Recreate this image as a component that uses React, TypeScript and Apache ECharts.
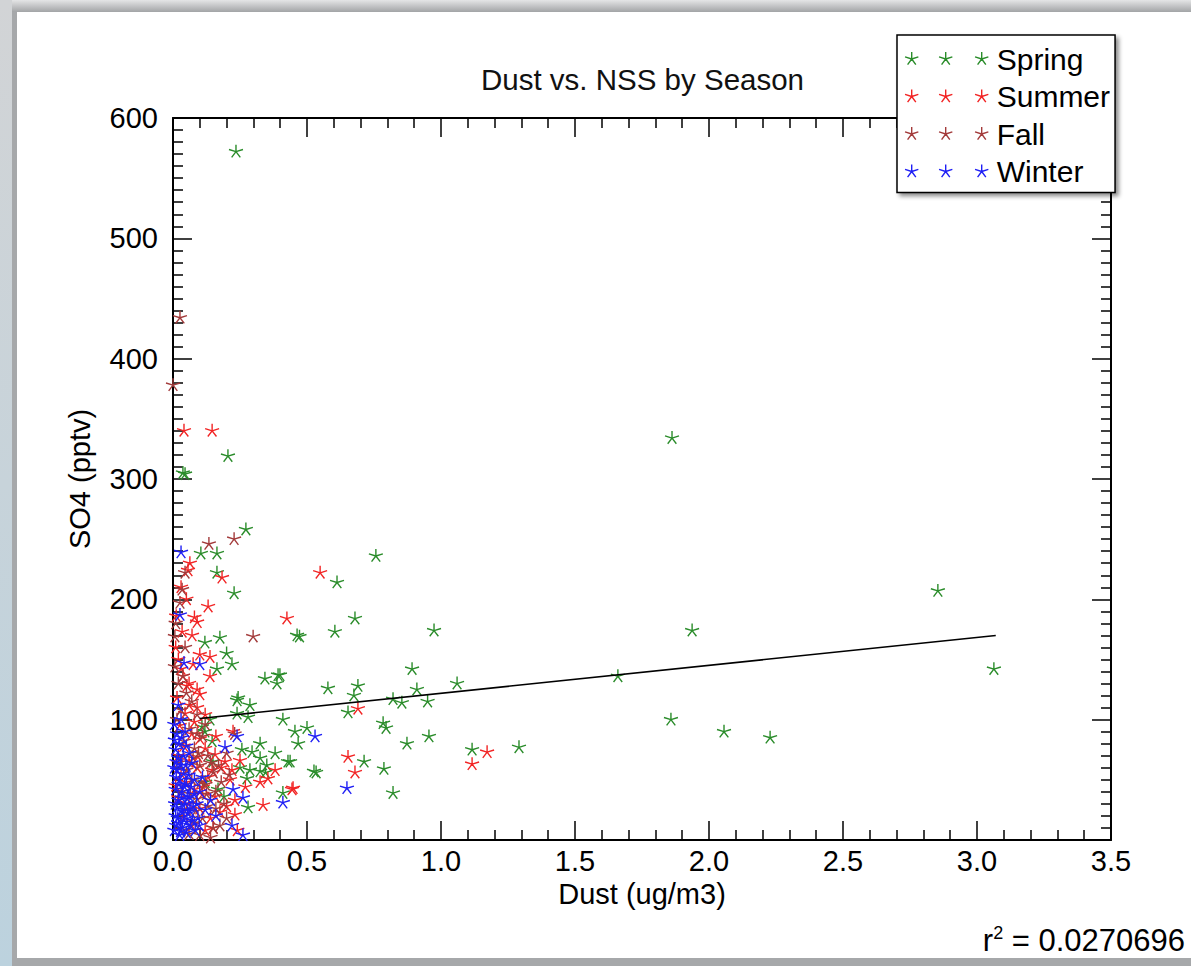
import React, { useEffect, useRef } from "react";
import * as echarts from "echarts";

// ---- data (Dust ug/m3, SO4 pptv) ----
const seasons = ["Spring", "Summer", "Fall", "Winter"];
const seasonColors = ["#2a8c2a", "#f22424", "#a33b3b", "#1f1ff5"];

const spring: number[][] = [
  [0.235, 572], [1.862, 334], [2.854, 207], [3.063, 142], [1.937, 174], [1.66, 136], [1.858, 100], [2.056, 90], [2.228, 85],
  [0.757, 236], [0.612, 214], [0.679, 184], [0.463, 170], [0.472, 169], [0.604, 173], [0.974, 174], [0.399, 137], [0.892, 142],
  [0.578, 126], [0.69, 128], [0.675, 120], [0.821, 117], [0.854, 114], [0.91, 125], [0.95, 115], [1.06, 130], [0.653, 106],
  [0.41, 100], [0.784, 97], [0.795, 93], [0.455, 90], [0.5, 93], [0.467, 80], [0.873, 80], [0.955, 86], [1.116, 75], [1.291, 77],
  [0.437, 65], [0.713, 65], [0.526, 57], [0.534, 56], [0.787, 59], [0.821, 39], [0.41, 39],
  [0.272, 258], [0.104, 238], [0.164, 238], [0.164, 222], [0.228, 205], [0.119, 164], [0.175, 168], [0.2, 155], [0.22, 146],
  [0.164, 142], [0.343, 134], [0.392, 137], [0.388, 130], [0.243, 118],
  [0.239, 116], [0.287, 112], [0.239, 105], [0.28, 102], [0.138, 100], [0.119, 90], [0.146, 82], [0.257, 75], [0.295, 73],
  [0.325, 80], [0.381, 72], [0.429, 65], [0.325, 68], [0.35, 62], [0.25, 60], [0.287, 58], [0.276, 51], [0.325, 57], [0.345, 56],
  [0.28, 27], [0.168, 42], [0.149, 65], [0.037, 305], [0.045, 304], [0.205, 319], [0.108, 94], [0.12, 48], [0.19, 36],
];

const summer: number[][] = [
  [0.041, 340], [0.146, 340], [0.063, 230], [0.056, 224], [0.183, 218], [0.131, 194], [0.09, 181], [0.034, 173], [0.071, 170],
  [0.549, 222], [0.425, 184], [0.1, 154], [0.138, 152], [0.138, 136], [0.037, 136], [0.052, 128], [0.09, 125], [0.1, 121],
  [0.69, 109], [0.653, 69], [0.679, 56], [0.444, 42], [1.172, 73], [1.116, 63],
  [0.224, 90], [0.157, 71], [0.194, 65], [0.22, 58], [0.213, 50], [0.325, 48], [0.354, 51], [0.381, 58], [0.448, 43],
  [0.336, 29], [0.231, 33], [0.231, 21], [0.175, 23], [0.157, 36], [0.112, 44], [0.146, 58], [0.093, 69],
  [0.01, 160], [0.02, 150], [0.03, 142], [0.015, 118], [0.06, 112], [0.045, 105], [0.08, 98], [0.025, 95], [0.07, 88],
  [0.1, 84], [0.04, 78], [0.12, 76], [0.02, 70], [0.06, 66], [0.09, 60], [0.03, 55], [0.13, 52], [0.05, 48], [0.08, 42],
  [0.11, 38], [0.02, 35], [0.06, 30], [0.1, 26], [0.14, 18], [0.04, 20], [0.07, 12], [0.12, 8], [0.01, 45], [0.05, 200],
  [0.03, 210], [0.08, 185], [0.012, 186], [0.075, 146],
  [0.16, 86], [0.18, 60], [0.25, 66], [0.27, 44], [0.2, 28], [0.15, 10], [0.24, 8], [0.09, 110], [0.12, 104], [0.06, 130],
];

const fall: number[][] = [
  [0.026, 434], [0.0, 378], [0.134, 246], [0.228, 250], [0.045, 222], [0.034, 208], [0.026, 197], [0.299, 169], [0.007, 169],
  [0.045, 160], [0.037, 136], [0.007, 144], [0.23, 88],
  [0.01, 180], [0.02, 130], [0.05, 122], [0.07, 115], [0.03, 108], [0.09, 104], [0.015, 100], [0.06, 92], [0.11, 86],
  [0.04, 82], [0.08, 76], [0.13, 70], [0.02, 64], [0.1, 62], [0.15, 56], [0.05, 58], [0.12, 46], [0.07, 50], [0.03, 40],
  [0.16, 40], [0.09, 34], [0.13, 28], [0.05, 25], [0.11, 18], [0.08, 14], [0.15, 10], [0.03, 8], [0.1, 4], [0.19, 30],
  [0.17, 62], [0.21, 54], [0.06, 5],
  [0.14, 64], [0.18, 48], [0.16, 26], [0.2, 18], [0.12, 96], [0.09, 88], [0.075, 68], [0.105, 48], [0.125, 38], [0.085, 24],
  [0.175, 12], [0.14, 2], [0.065, 38], [0.095, 72], [0.2, 72],
];

const winter: number[][] = [
  [0.03, 239], [0.026, 187], [0.041, 147], [0.1, 146], [0.239, 86], [0.194, 77], [0.224, 42], [0.261, 35], [0.22, 12],
  [0.261, 4], [0.41, 31], [0.53, 86], [0.649, 43], [0.007, 83], [0.02, 112], [0.093, 18],
  [0.01, 75], [0.02, 68], [0.03, 62], [0.015, 58], [0.04, 55], [0.025, 50], [0.05, 46], [0.01, 42], [0.035, 40], [0.06, 36],
  [0.02, 33], [0.045, 30], [0.015, 27], [0.03, 24], [0.055, 22], [0.01, 20], [0.04, 17], [0.02, 14], [0.065, 12], [0.035, 10],
  [0.005, 8], [0.05, 6], [0.025, 4], [0.075, 28], [0.08, 50], [0.06, 72], [0.045, 90], [0.03, 100], [0.1, 40], [0.12, 25],
  [0.015, 88], [0.07, 64],
  [0.005, 60], [0.012, 52], [0.022, 46], [0.032, 35], [0.042, 25], [0.052, 15], [0.008, 30], [0.018, 18], [0.028, 7],
  [0.038, 70], [0.048, 62], [0.058, 54], [0.068, 44], [0.078, 38], [0.088, 30], [0.013, 65], [0.023, 80], [0.033, 85],
  [0.043, 44], [0.053, 34], [0.063, 24], [0.073, 16], [0.083, 8], [0.098, 12], [0.11, 52], [0.14, 33], [0.16, 20],
  [0.012, 12], [0.005, 96], [0.05, 78],
];

const fitLine: number[][] = [[0.1, 101], [3.07, 170]];
const rSquared = "0.0270696";

const xTicks = { min: 0, max: 3.5, interval: 0.5 };
const yTicks = { min: 0, max: 600, interval: 100 };

const FONT = "'Liberation Sans', Arial, Helvetica, sans-serif";

const STAR =
  "path://M10 10L10 0M10 10L19.51 6.91M10 10L15.88 18.09M10 10L4.12 18.09M10 10L0.49 6.91M10 20L10 20";
const STAR3 =
  "path://M7 7L7 0M7 7L13.66 4.84M7 7L11.11 12.66M7 7L2.89 12.66M7 7L0.34 4.84" +
  "M41 7L41 0M41 7L47.66 4.84M41 7L45.11 12.66M41 7L36.89 12.66M41 7L34.34 4.84" +
  "M77 7L77 0M77 7L83.66 4.84M77 7L81.11 12.66M77 7L72.89 12.66M77 7L70.34 4.84" +
  "M0 14L0 14M84 14L84 14";

export default function App() {
  const ref = useRef<HTMLDivElement>(null);

  useEffect(() => {
    if (!ref.current) return;
    const chart = echarts.init(ref.current, null, { renderer: "svg" });
    const seriesData = [spring, summer, fall, winter];

    const axisCommon = {
      type: "value" as const,
      axisLine: { show: true, onZero: false, lineStyle: { color: "#000", width: 2 } },
      axisTick: { show: true, inside: true, length: 19, lineStyle: { color: "#000", width: 1.5 } },
      minorTick: { show: true, length: 10, lineStyle: { color: "#000", width: 1.5 } },
      splitLine: { show: false },
      minorSplitLine: { show: false },
    };

    chart.setOption({
      animation: false,
      backgroundColor: "transparent",
      textStyle: { fontFamily: FONT, color: "#000" },
      title: {
        text: "Dust vs. NSS by Season",
        left: 481,
        top: 64,
        padding: 0,
        textStyle: { fontFamily: FONT, fontSize: 29.5, fontWeight: "normal", color: "#111" },
      },
      grid: { left: 173, right: 80, top: 118, bottom: 126, containLabel: false, outerBoundsMode: "none" },
      legend: {
        orient: "vertical",
        left: 897,
        top: 35,
        padding: [9, 5, 6, 7],
        itemGap: 7.5,
        itemWidth: 84,
        itemHeight: 14,
        selectedMode: false,
        backgroundColor: "#fff",
        borderColor: "#000",
        borderWidth: 1.5,
        borderRadius: 0,
        shadowColor: "rgba(0,0,0,0.45)",
        shadowBlur: 4,
        shadowOffsetX: 3,
        shadowOffsetY: 3,
        itemStyle: { borderWidth: 1.4 },
        textStyle: { fontFamily: FONT, fontSize: 30, color: "#000", padding: [0, 0, 0, 3] },
        data: seasons.map((s) => ({ name: s, icon: STAR3 })),
      },
      xAxis: [
        {
          ...axisCommon,
          position: "bottom",
          min: xTicks.min,
          max: xTicks.max,
          interval: xTicks.interval,
          minorTick: { ...axisCommon.minorTick, splitNumber: 5 },
          axisLabel: {
            show: true,
            margin: 6,
            fontSize: 29,
            color: "#000",
            fontFamily: FONT,
            formatter: (v: number) => v.toFixed(1),
          },
          name: "Dust (ug/m3)",
          nameLocation: "middle",
          nameGap: 34,
          nameTextStyle: { fontSize: 29, color: "#000", fontFamily: FONT },
        },
        {
          ...axisCommon,
          position: "top",
          min: xTicks.min,
          max: xTicks.max,
          interval: xTicks.interval,
          minorTick: { ...axisCommon.minorTick, splitNumber: 5 },
          axisLabel: { show: false },
        },
      ],
      yAxis: [
        {
          ...axisCommon,
          position: "left",
          min: yTicks.min,
          max: yTicks.max,
          interval: yTicks.interval,
          minorTick: { ...axisCommon.minorTick, splitNumber: 10 },
          axisLabel: {
            show: true,
            margin: 15,
            fontSize: 29,
            color: "#000",
            fontFamily: FONT,
            formatter: (v: number) => (v === 0 ? "{z|0}" : String(v)),
            rich: { z: { fontSize: 29, fontFamily: FONT, color: "#000", padding: [0, 0, 10, 0] } },
          },
          name: "SO4 (pptv)",
          nameLocation: "middle",
          nameRotate: 90,
          nameGap: 79,
          nameTextStyle: { fontSize: 29, color: "#000", fontFamily: FONT },
        },
        {
          ...axisCommon,
          position: "right",
          min: yTicks.min,
          max: yTicks.max,
          interval: yTicks.interval,
          minorTick: { ...axisCommon.minorTick, splitNumber: 10 },
          axisLabel: { show: false },
        },
      ],
      series: [
        ...seasons.map((s, i) => ({
          name: s,
          type: "scatter",
          xAxisIndex: 0,
          yAxisIndex: 0,
          data: seriesData[i],
          symbol: STAR,
          symbolSize: 14,
          itemStyle: {
            color: "rgba(0,0,0,0)",
            borderColor: seasonColors[i],
            borderWidth: 1.4,
            opacity: 1,
          },
          emphasis: { disabled: true },
          z: 2 + i * 0.01,
        })),
        {
          name: "fit",
          type: "line",
          xAxisIndex: 0,
          yAxisIndex: 0,
          data: fitLine,
          symbol: "none",
          lineStyle: { color: "#000", width: 1.6 },
          z: 3,
        },
      ],
      graphic: [
        {
          type: "text",
          x: 1185,
          y: 940,
          style: {
            text: "{a|r}{b|2}{a| = " + rSquared + "}",
            align: "right",
            verticalAlign: "middle",
            rich: {
              a: { fontSize: 31, fontFamily: FONT, fill: "#000", lineHeight: 32 },
              b: { fontSize: 18, fontFamily: FONT, fill: "#000", verticalAlign: "top" },
            },
          },
        },
      ],
    });

    return () => chart.dispose();
  }, []);

  return (
    <div style={{ position: "absolute", left: 0, top: 0, width: 1191, height: 966, background: "#a6a8aa", overflow: "hidden" }}>
      <div style={{ position: "absolute", left: 0, top: 0, width: 1191, height: 12, background: "linear-gradient(#e4e5e6, #a2a4a6)" }} />
      <div style={{ position: "absolute", left: 0, top: 0, width: 12, height: 966, background: "linear-gradient(#d2d4d6, #bcd2de)" }} />
      <div style={{ position: "absolute", left: 17, top: 12, width: 1174, height: 946, background: "#ffffff" }} />
      <div ref={ref} style={{ position: "absolute", left: 0, top: 0, width: 1191, height: 966 }} />
    </div>
  );
}
